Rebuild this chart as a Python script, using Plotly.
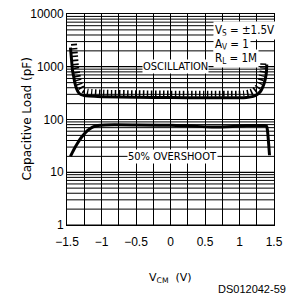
import numpy as np
import plotly.graph_objects as go

# Data
osc_x = [-1.45, -1.435, -1.42, -1.40, -1.385, -1.36, -1.33, -1.30, -1.25, -1.18, -1.0, -0.5, 0.0, 0.5, 1.0, 1.1, 1.2, 1.25, 1.30, 1.34, 1.37, 1.39, 1.395]
osc_y = [2300, 1400, 850, 620, 490, 380, 320, 298, 285, 278, 270, 264, 260, 258, 258, 262, 275, 295, 335, 420, 560, 780, 1100]

ovs_x = [-1.45, -1.40, -1.35, -1.29, -1.20, -1.13, -1.05, -0.95, -0.5, 0.0, 0.3, 0.6, 0.9, 1.1, 1.3, 1.39, 1.405, 1.435]
ovs_y = [20, 27, 35, 46, 62, 72, 77, 79, 79, 78, 75, 72, 74, 77, 77, 76, 62, 21]

x_tick_vals = [-1.5, -1.0, -0.5, 0.0, 0.5, 1.0, 1.5]
x_tick_text = ["\u22121.5", "\u22121", "\u22120.5", "0", "0.5", "1", "1.5"]
y_tick_vals = [1, 10, 100, 1000, 10000]
y_tick_text = ["1", "10", "100", "1000", "10000"]

cond_lines = ["V<sub>S</sub> = \u00b11.5V", "A<sub>V</sub> = 1", "R<sub>L</sub> = 1M"]

fig = go.Figure()

# hatch decoration for oscillation boundary (derived from the curve)
hx = [v * 0.965 for v in osc_x]
hy = [v * 1.19 for v in osc_y]
fig.add_trace(go.Scatter(x=hx, y=hy, mode="lines",
                         line=dict(color="black", width=6, dash="1.5px,2.5px", shape="spline", smoothing=0.6),
                         hoverinfo="skip", showlegend=False))
fig.add_trace(go.Scatter(x=osc_x, y=osc_y, mode="lines",
                         line=dict(color="black", width=3, shape="spline", smoothing=0.6),
                         showlegend=False))
fig.add_trace(go.Scatter(x=ovs_x, y=ovs_y, mode="lines",
                         line=dict(color="black", width=3, shape="spline", smoothing=0.6),
                         showlegend=False))

# grid lines (log minor)
shapes = []
for d in range(4):
    for m in range(1, 10):
        v = m * 10 ** d
        shapes.append(dict(type="line", xref="paper", x0=0, x1=1, yref="y", y0=v, y1=v,
                           line=dict(color="black", width=1), layer="below"))
fig.update_layout(shapes=shapes)

font_lbl = "DejaVu Sans Condensed, Liberation Sans Narrow, Liberation Sans, Arial, sans-serif"
anns = []
anns.append(dict(x=0.07, y=np.log10(1000), xref="x", yref="y", text="OSCILLATION", showarrow=False,
                 font=dict(family=font_lbl, size=11, color="black"), bgcolor="white", borderpad=0))
anns.append(dict(x=0.03, y=np.log10(20), xref="x", yref="y", text="50% OVERSHOOT", showarrow=False,
                 font=dict(family=font_lbl, size=11, color="black"), bgcolor="white", borderpad=0))
for i, t in enumerate(cond_lines):
    anns.append(dict(x=0.62, y=[0.968, 0.902, 0.832][i], xref="x", yref="paper", xanchor="left",
                     text=t, showarrow=False, align="left",
                     font=dict(family=font_lbl, size=11.5, color="black"), bgcolor="white", borderpad=1))
anns.append(dict(x=-0.241, y=0.5, xref="paper", yref="paper", text="Capacitive Load (pF)",
                 textangle=-90, showarrow=False, font=dict(family="DejaVu Sans", size=12, color="black")))
anns.append(dict(x=0.5, y=-0.295, xref="paper", yref="paper", text="V<sub>CM</sub>  (V)",
                 showarrow=False, font=dict(family="DejaVu Sans", size=11, color="black")))
anns.append(dict(x=1.07, y=-0.34, xref="paper", yref="paper", xanchor="right", text="DS012042-59",
                 showarrow=False, font=dict(family="Liberation Sans, Arial", size=11, color="black")))
fig.update_layout(annotations=anns)

fig.update_layout(
    width=290, height=295,
    margin=dict(l=67, r=7, t=9, b=70),
    paper_bgcolor="white", plot_bgcolor="white",
    showlegend=False,
    xaxis=dict(range=[-1.5, 1.5], tickvals=x_tick_vals, ticktext=x_tick_text,
               showgrid=True, gridcolor="black", gridwidth=1,
               minor=dict(dtick=0.25, showgrid=True, gridcolor="black", gridwidth=1),
               showline=True, linecolor="black", linewidth=1, mirror=True, zeroline=False,
               ticks="", ticklabeloverflow="allow", ticklabelstandoff=6,
               tickfont=dict(family="Liberation Sans, Arial", size=12, color="black")),
    yaxis=dict(type="log", range=[0, 4], tickvals=y_tick_vals, ticktext=y_tick_text,
               showgrid=True, gridcolor="black", gridwidth=1,
               showline=True, linecolor="black", linewidth=1, mirror=True, zeroline=False,
               ticks="", ticklabeloverflow="allow",
               tickfont=dict(family="Liberation Sans, Arial", size=12, color="black")),
)

fig.write_html("out.html", config={"displayModeBar": False},
               post_script="document.body.style.margin='0';document.body.style.overflow='hidden';")
